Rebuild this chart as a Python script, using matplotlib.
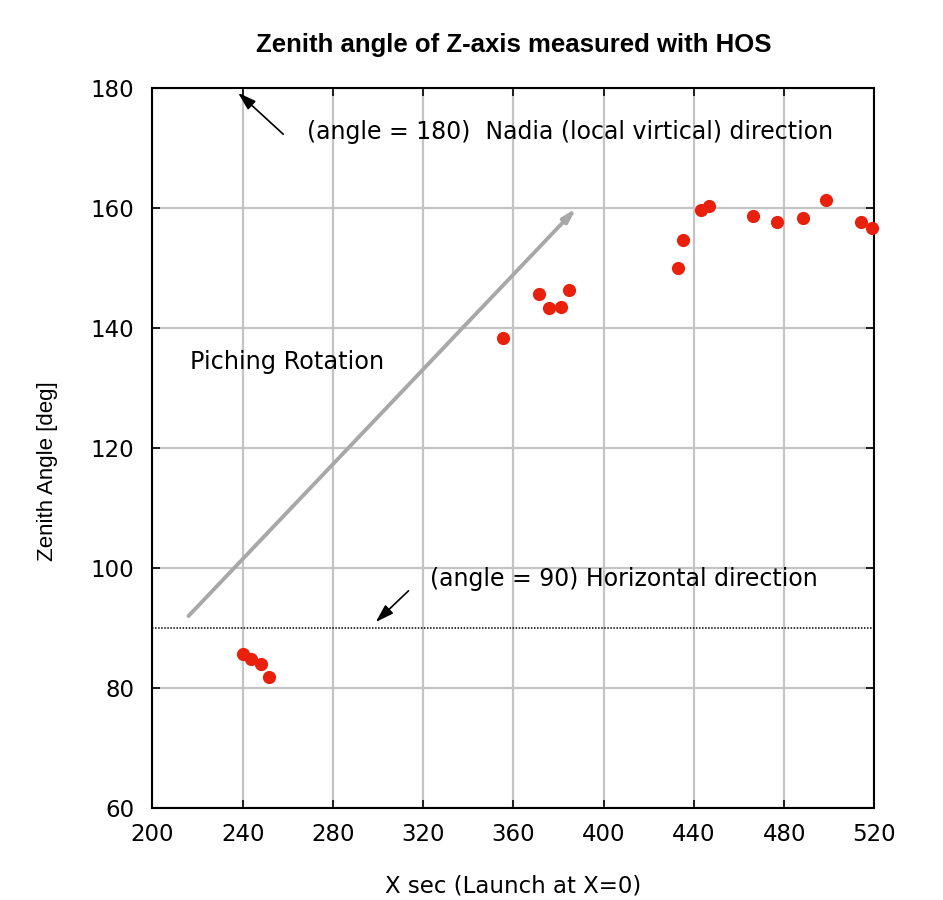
import numpy as np
import matplotlib
matplotlib.use('Agg')
import matplotlib.pyplot as plt

plt.rcParams['font.family'] = ['DejaVu Sans']

# time after launch [s] and measured zenith angle [deg]
t_sec = [240.2, 243.7, 248.1, 251.7,
         355.5, 371.5, 375.8, 381.0, 384.8,
         432.8, 435.3, 443.0, 446.9, 466.4, 477.0, 488.5, 498.6, 514.1, 518.8]
zenith = [85.7, 84.8, 84.0, 81.8,
          138.3, 145.7, 143.3, 143.5, 146.3,
          150.0, 154.6, 159.6, 160.4, 158.7, 157.7, 158.3, 161.3, 157.7, 156.6]

xticks = [200, 240, 280, 320, 360, 400, 440, 480, 520]
yticks = [60, 80, 100, 120, 140, 160, 180]

fig = plt.figure(figsize=(9.43, 9.0), dpi=100)
ax = fig.add_axes([0.1616, 0.1022, 0.7657, 0.8000])

ax.set_xlim(200, 520)
ax.set_ylim(60, 180)
ax.set_xticks(xticks)
ax.set_yticks(yticks)
ax.grid(True, color='#c4c4c4', linewidth=1.6)
ax.set_axisbelow(True)
ax.tick_params(direction='in', top=True, right=True, length=6, width=1.2,
               labelsize=16.5)
ax.tick_params(axis='y', pad=13)
ax.tick_params(axis='x', pad=11)
for s in ax.spines.values():
    s.set_linewidth(1.5)

# horizontal reference at 90 deg
ax.axhline(90, color='black', linestyle=(0, (1, 1)), linewidth=1.1)

# pitching rotation arrow
ax.annotate('', xy=(388, 160), xytext=(216, 92),
            arrowprops=dict(arrowstyle='-|>,head_length=0.8,head_width=0.22',
                            color='#a8a8a8', lw=2.8, shrinkA=0, shrinkB=0))

# black pointer arrows
ax.annotate('', xy=(238, 179.2), xytext=(258, 172.3),
            arrowprops=dict(arrowstyle='-|>,head_length=1.1,head_width=0.35',
                            color='black', lw=1.2, shrinkA=0, shrinkB=0))
ax.annotate('', xy=(299, 91), xytext=(313.5, 96.2),
            arrowprops=dict(arrowstyle='-|>,head_length=1.1,head_width=0.35',
                            color='black', lw=1.2, shrinkA=0, shrinkB=0))

ax.text(268.5, 172.6, '(angle = 180)  Nadia (local virtical) direction',
        fontsize=17, va='center', ha='left')
ax.text(323, 98.1, '(angle = 90) Horizontal direction',
        fontsize=17, va='center', ha='left')
ax.text(216.5, 134.3, 'Piching Rotation', fontsize=17.3, va='center', ha='left')

ax.plot(t_sec, zenith, 'o', color='#e8200c', markersize=9.5,
        markeredgewidth=0, clip_on=False, zorder=5)

ax.set_title('Zenith angle of Z-axis measured with HOS', fontsize=18.5,
             fontweight='bold', family='Liberation Sans', pad=26)
ax.set_xlabel('X sec (Launch at X=0)', fontsize=16.5, labelpad=20)
ax.set_ylabel('Zenith Angle [deg]', fontsize=16, family='Liberation Sans')
ax.yaxis.set_label_coords(-0.131, 0.468)

fig.savefig('out.png', dpi=100)
